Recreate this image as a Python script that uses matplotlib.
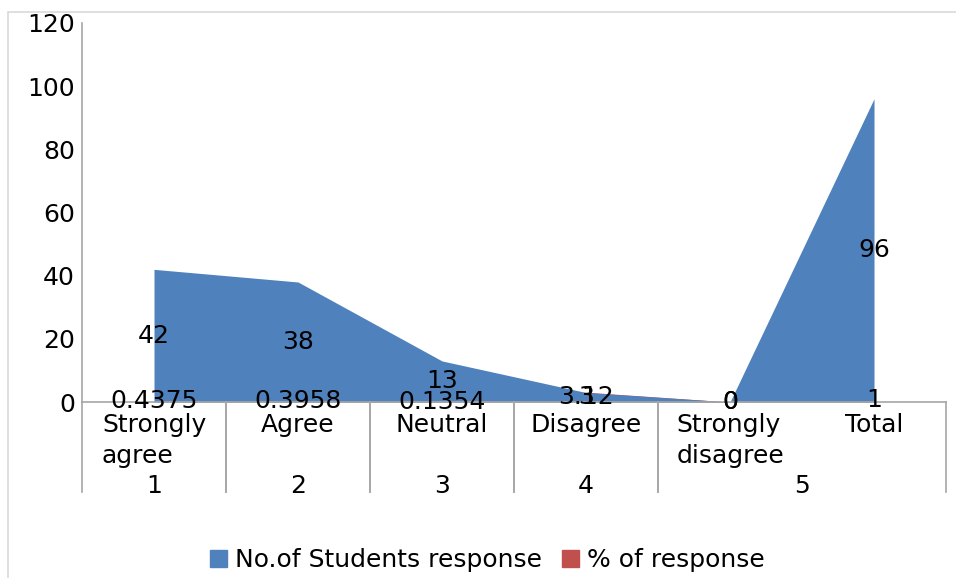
import matplotlib
matplotlib.use("Agg")
import matplotlib.pyplot as plt
from matplotlib.patches import Patch, Rectangle
from matplotlib.transforms import blended_transform_factory

# data
categories = ["Strongly\nagree", "Agree", "Neutral", "Disagree", "Strongly\ndisagree", "Total"]
groups = ["1", "2", "3", "4", "5"]
group_spans = [(0, 0), (1, 1), (2, 2), (3, 3), (4, 5)]
students = [42, 38, 13, 3, 0, 96]
percent = [0.4375, 0.3958, 0.1354, 3.12, 0, 1]

blue = "#4F81BD"
red = "#C0504D"
axis_col = "#A6A6A6"

W, H = 956, 578
fig = plt.figure(figsize=(W / 100, H / 100), dpi=100)
plt.rcParams["font.family"] = ["DejaVu Sans"]
fs = 18

# outer chart border
fig.patches.append(Rectangle((8 / W, -0.01), 1.0, (H - 12) / H + 0.01,
                             transform=fig.transFigure, fill=False,
                             edgecolor="#D9D9D9", linewidth=1.2))

left, right, top, bottom = 82, 946, 23, 402
ax = fig.add_axes([left / W, (H - bottom) / H, (right - left) / W, (bottom - top) / H])

x = list(range(len(categories)))
ax.fill_between(x, percent, color=red, zorder=1, linewidth=0)
ax.fill_between(x, students, color=blue, zorder=2, linewidth=0)

# data labels in the middle of each area
for xi, v in zip(x, students):
    ax.text(xi, v / 2, f"{v:g}", ha="center", va="center", fontsize=fs, zorder=5)
for xi, v in zip(x, percent):
    ax.text(xi, v / 2, f"{v:g}", ha="center", va="center", fontsize=fs, zorder=5)

ax.set_xlim(-0.5, len(categories) - 0.5)
ax.set_ylim(0, 120)
ax.set_yticks(range(0, 121, 20))
ax.tick_params(axis="y", length=0, pad=5, labelsize=fs)
ax.set_xticks([])
for s in ["top", "right"]:
    ax.spines[s].set_visible(False)
ax.spines["left"].set_color(axis_col)
ax.spines["bottom"].set_color(axis_col)
ax.spines["left"].set_linewidth(1.2)
ax.spines["bottom"].set_linewidth(1.2)

# multi-level category axis
tr = blended_transform_factory(ax.transData, ax.transAxes)
px = 1.0 / (bottom - top)
depth = -(492 - bottom) * px
for gs, ge in group_spans:
    for edge in (gs - 0.5, ge + 0.5):
        ax.plot([edge, edge], [0, depth], transform=tr, color=axis_col,
                linewidth=1.2, clip_on=False)
for xi, c in enumerate(categories):
    ax.text(xi, -(413 - bottom) * px, c, transform=tr, ha="center", va="top",
            multialignment="left", fontsize=fs, linespacing=1.35)
for g, (gs, ge) in zip(groups, group_spans):
    ax.text((gs + ge) / 2, -(486 - bottom) * px, g, transform=tr, ha="center",
            va="center", fontsize=fs)

handles = [Patch(color=blue, label="No.of Students response"),
           Patch(color=red, label="% of response")]
fig.legend(handles=handles, loc="center", bbox_to_anchor=(487 / W, 1 - 560 / H),
           ncol=2, frameon=False, fontsize=fs, handlelength=0.7, handleheight=0.7,
           handletextpad=0.3, columnspacing=0.8)

fig.savefig("out.png", dpi=100)
